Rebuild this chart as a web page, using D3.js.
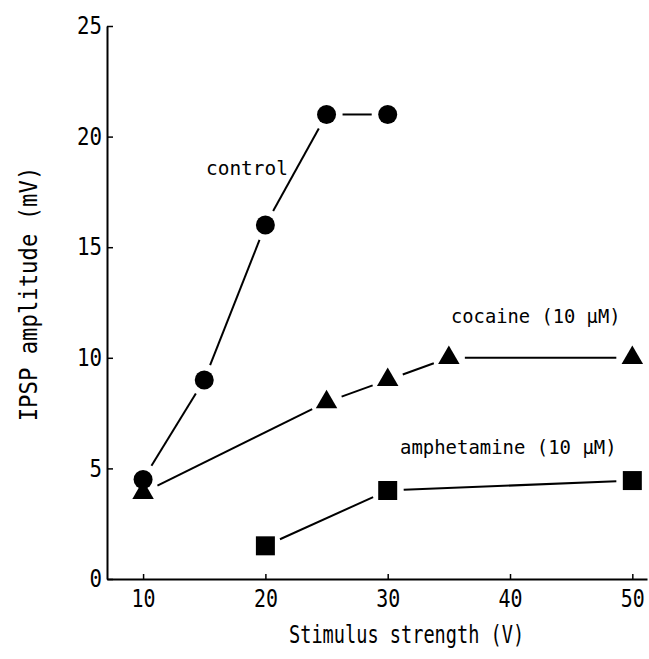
<!DOCTYPE html>
<html>
<head>
<meta charset="utf-8">
<script src="https://cdn.jsdelivr.net/npm/d3@7"></script>
<style>
  body { margin: 0; background: #fff; }
  text { font-family: "DejaVu Sans Mono", monospace; fill: #000; }
</style>
</head>
<body>
<div id="my_dataviz"></div>
<script>
// data
const controlX = [10, 15, 20, 25, 30];
const controlY = [4.5, 9, 16, 21, 21];
const cocaineX = [10, 25, 30, 35, 50];
const cocaineY = [3.9, 8, 9, 10, 10];
const amphX = [20, 30, 50];
const amphY = [1.5, 4, 4.45];
const xTicks = [10, 20, 30, 40, 50];
const yTicks = [0, 5, 10, 15, 20, 25];

// constant dimensions
const margin = {top: 26, right: 2, bottom: 80, left: 107};
const width = 649 - margin.left - margin.right;
const height = 659 - margin.top - margin.bottom;

var svg = d3.select("#my_dataviz")
    .append("svg")
    .attr("width", width + margin.left + margin.right)
    .attr("height", height + margin.top + margin.bottom)
    .append("g")
    .attr("transform", "translate(" + margin.left + "," + margin.top + ")");

// scales
var x = d3.scaleLinear().domain([7.05, 51.2]).range([0, width]);
var y = d3.scaleLinear().domain([0, 25]).range([height, 0]);

// condensed plotter-style lettering
function condense(sel, perChar) {
    sel.attr("textLength", function() { return this.textContent.length * perChar; })
        .attr("lengthAdjust", "spacingAndGlyphs");
}

// X axis, ticks pointing up
var gx = svg.append("g")
    .attr("transform", "translate(0," + height + ")")
    .call(d3.axisBottom(x).tickValues(xTicks).tickSizeInner(-5).tickSizeOuter(0).tickPadding(11));
gx.select(".domain").attr("stroke-width", 2);
gx.selectAll(".tick line").attr("stroke-width", 1.5);
gx.selectAll("text").style("font-size", "24px").attr("font-family", null).call(condense, 12);

// Y axis, ticks pointing right
var gy = svg.append("g")
    .call(d3.axisLeft(y).tickValues(yTicks).tickSizeInner(-6).tickSizeOuter(0).tickPadding(5));
gy.select(".domain").attr("stroke-width", 2);
gy.selectAll(".tick line").attr("stroke-width", 1.5);
gy.selectAll("text").style("font-size", "24px").attr("font-family", null).call(condense, 12.5);

// segments between markers, with a gap at each end
function drawSeries(xs, ys, shape) {
    var pts = xs.map(function(d, i) { return [x(d), y(ys[i])]; });
    var gap = 16;
    for (let i = 0; i < pts.length - 1; i++) {
        var a = pts[i], b = pts[i + 1];
        var dx = b[0] - a[0], dy = b[1] - a[1];
        var len = Math.sqrt(dx * dx + dy * dy);
        var ux = dx / len, uy = dy / len;
        svg.append("line")
            .attr("x1", a[0] + ux * gap).attr("y1", a[1] + uy * gap)
            .attr("x2", b[0] - ux * gap).attr("y2", b[1] - uy * gap)
            .attr("stroke", "#000")
            .attr("stroke-width", 2);
    }
    if (shape == "circle") {
        svg.selectAll(null).data(pts).enter().append("circle")
            .attr("cx", d => d[0]).attr("cy", d => d[1])
            .attr("r", 9.5).attr("fill", "#000");
    } else {
        var sym = shape == "triangle"
            ? d3.symbol().type(d3.symbolTriangle).size(200)
            : d3.symbol().type(d3.symbolSquare).size(361);
        svg.selectAll(null).data(pts).enter().append("path")
            .attr("transform", d => "translate(" + d[0] + "," + d[1] + ")")
            .attr("d", sym).attr("fill", "#000");
    }
}

drawSeries(controlX, controlY, "circle");
drawSeries(cocaineX, cocaineY, "triangle");
drawSeries(amphX, amphY, "square");

// labels on the curves
svg.append("text").attr("x", 206 - margin.left).attr("y", 175 - margin.top)
    .style("font-size", "20px").text("control").call(condense, 11.7);
svg.append("text").attr("x", 451 - margin.left).attr("y", 323 - margin.top)
    .style("font-size", "20px").text("cocaine (10 \u03bcM)").call(condense, 11.3);
svg.append("text").attr("x", 400 - margin.left).attr("y", 454 - margin.top)
    .style("font-size", "20px").text("amphetamine (10 \u03bcM)").call(condense, 11.4);

// X-Axis Label
svg.append("text")
    .attr("x", 289 - margin.left)
    .attr("y", height + 64)
    .style("font-size", "24px")
    .text("Stimulus strength (V)")
    .call(condense, 11.2);

// Y-Axis Label
svg.append("text")
    .attr("text-anchor", "middle")
    .attr("transform", "translate(" + (37 - margin.left) + "," + (294 - margin.top) + ") rotate(-90)")
    .style("font-size", "25px")
    .text("IPSP amplitude (mV)")
    .call(condense, 13.4);
</script>
</body>
</html>
